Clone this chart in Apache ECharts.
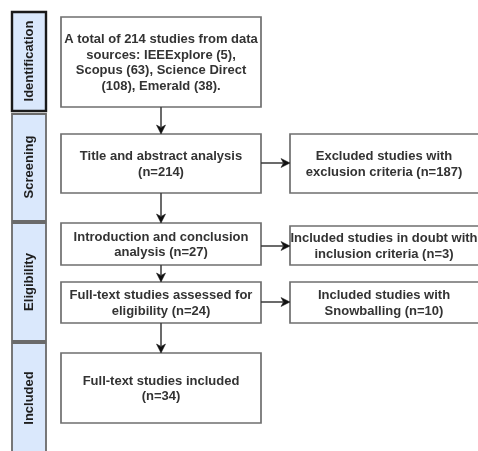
<!DOCTYPE html>
<html>
<head>
<meta charset="utf-8">
<script src="https://cdn.jsdelivr.net/npm/echarts@6/dist/echarts.min.js"></script>
<style>html,body{margin:0;padding:0;background:#fff}#c{width:478px;height:451px}</style>
</head>
<body>
<div id="c"></div>
<script>
// ---- data ----
var stages = ['Identification', 'Screening', 'Eligibility', 'Included'];
var sources = ['IEEExplore', 'Scopus', 'Science Direct', 'Emerald'];
var sourceCounts = [5, 63, 108, 38];
var totalStudies = 214;
var screenedCount = 214;
var excludedCount = 187;
var introCount = 27;
var doubtCount = 3;
var fullTextCount = 24;
var snowballCount = 10;
var includedCount = 34;

var mainTexts = [
  'A total of ' + totalStudies + ' studies from data\nsources: ' + sources[0] + ' (' + sourceCounts[0] + '),\n' +
    sources[1] + ' (' + sourceCounts[1] + '), ' + sources[2] + '\n(' + sourceCounts[2] + '), ' + sources[3] + ' (' + sourceCounts[3] + ').',
  'Title and abstract analysis\n(n=' + screenedCount + ')',
  'Introduction and conclusion\nanalysis (n=' + introCount + ')',
  'Full-text studies assessed for\neligibility (n=' + fullTextCount + ')',
  'Full-text studies included\n(n=' + includedCount + ')'
];
var sideTexts = [
  'Excluded studies with\nexclusion criteria (n=' + excludedCount + ')',
  'Included studies in doubt with\ninclusion criteria (n=' + doubtCount + ')',
  'Included studies with\nSnowballing (n=' + snowballCount + ')'
];

// ---- layout (pixel space of the 478x451 canvas) ----
var stageBands = [[12, 111], [114, 221], [223, 341], [343, 470]];
var stageLabelY = [61, 167, 282, 398];
var stageX = [12, 46];
var mainX = [61, 261];
var mainY = [[17, 107], [134, 193], [223, 265], [282, 323], [353, 423]];
var sideX = [290, 482];
var sideTextX = 384;
var sideY = [[134, 193], [226, 265], [282, 323]];
var sideArrowY = [163, 246, 302];

var FONT = 'bold 13px "Liberation Sans", Arial, sans-serif';
var TXT = '#333333';

function rectPts(api, x0, y0, x1, y1) {
  var a = api.coord([x0, y0]), b = api.coord([x1, y1]);
  return {x: Math.min(a[0], b[0]), y: Math.min(a[1], b[1]), width: Math.abs(b[0] - a[0]), height: Math.abs(b[1] - a[1])};
}

function boxItem(api, x0, y0, x1, y1, text, tx) {
  var r = rectPts(api, x0, y0, x1, y1);
  return {
    type: 'group',
    children: [
      {type: 'rect', shape: r, style: {fill: '#ffffff', stroke: '#6f6f6f', lineWidth: 1.7}},
      {type: 'text', x: tx != null ? api.coord([tx, 0])[0] : r.x + r.width / 2, y: r.y + r.height / 2 + 1,
       style: {text: text, font: FONT, fill: TXT, align: 'center', verticalAlign: 'middle', lineHeight: 15.5}}
    ]
  };
}

function arrowItem(api, p0, p1) {
  var a = api.coord(p0), b = api.coord(p1);
  var dx = b[0] - a[0], dy = b[1] - a[1];
  var len = Math.sqrt(dx * dx + dy * dy);
  var ux = dx / len, uy = dy / len;
  var hl = 9, hw = 4.5;
  var bx = b[0] - ux * hl, by = b[1] - uy * hl;
  return {
    type: 'group',
    children: [
      {type: 'line', shape: {x1: a[0], y1: a[1], x2: bx + ux * 2, y2: by + uy * 2}, style: {stroke: '#3a3a3a', lineWidth: 1.5}},
      {type: 'polygon', shape: {points: [[b[0], b[1]], [bx - uy * hw, by + ux * hw], [bx + ux * 2.5, by + uy * 2.5], [bx + uy * hw, by - ux * hw]]},
       style: {fill: '#111111', stroke: '#111111', lineWidth: 0.5}}
    ]
  };
}

var chart = echarts.init(document.getElementById('c'), null, {renderer: 'canvas'});
chart.setOption({
  animation: false,
  grid: {left: 0, right: 0, top: 0, bottom: 0},
  xAxis: {type: 'value', min: 0, max: 478, show: false},
  yAxis: {type: 'value', min: 0, max: 451, inverse: true, show: false},
  series: [
    { // stage bands
      type: 'custom', coordinateSystem: 'cartesian2d', clip: false,
      data: stages.map(function (s, i) { return [i]; }),
      renderItem: function (params, api) {
        var i = params.dataIndex;
        var r = rectPts(api, stageX[0], stageBands[i][0], stageX[1], stageBands[i][1]);
        var first = i === 0;
        return {
          type: 'group',
          children: [
            {type: 'rect', shape: r, style: {fill: '#dae8fc', stroke: first ? '#1a1a1a' : '#6a6a6a', lineWidth: first ? 2.4 : 1.8}},
            {type: 'text', x: r.x + r.width / 2 + 0.5, y: api.coord([0, stageLabelY[i]])[1], rotation: Math.PI / 2,
             style: {text: stages[i], font: FONT, fill: '#1e1e1e', align: 'center', verticalAlign: 'middle'}}
          ]
        };
      }
    },
    { // main column boxes
      type: 'custom', coordinateSystem: 'cartesian2d', clip: false,
      data: mainTexts.map(function (t, i) { return [i]; }),
      renderItem: function (params, api) {
        var i = params.dataIndex;
        return boxItem(api, mainX[0], mainY[i][0], mainX[1], mainY[i][1], mainTexts[i]);
      }
    },
    { // side boxes
      type: 'custom', coordinateSystem: 'cartesian2d', clip: false,
      data: sideTexts.map(function (t, i) { return [i]; }),
      renderItem: function (params, api) {
        var i = params.dataIndex;
        return boxItem(api, sideX[0], sideY[i][0], sideX[1], sideY[i][1], sideTexts[i], sideTextX);
      }
    },
    { // vertical arrows
      type: 'custom', coordinateSystem: 'cartesian2d', clip: false,
      data: mainTexts.slice(1).map(function (t, i) { return [i]; }),
      renderItem: function (params, api) {
        var i = params.dataIndex;
        var cx = (mainX[0] + mainX[1]) / 2;
        return arrowItem(api, [cx, mainY[i][1]], [cx, mainY[i + 1][0]]);
      }
    },
    { // horizontal arrows
      type: 'custom', coordinateSystem: 'cartesian2d', clip: false,
      data: sideTexts.map(function (t, i) { return [i]; }),
      renderItem: function (params, api) {
        var i = params.dataIndex;
        return arrowItem(api, [mainX[1], sideArrowY[i]], [sideX[0], sideArrowY[i]]);
      }
    }
  ]
});
</script>
</body>
</html>
